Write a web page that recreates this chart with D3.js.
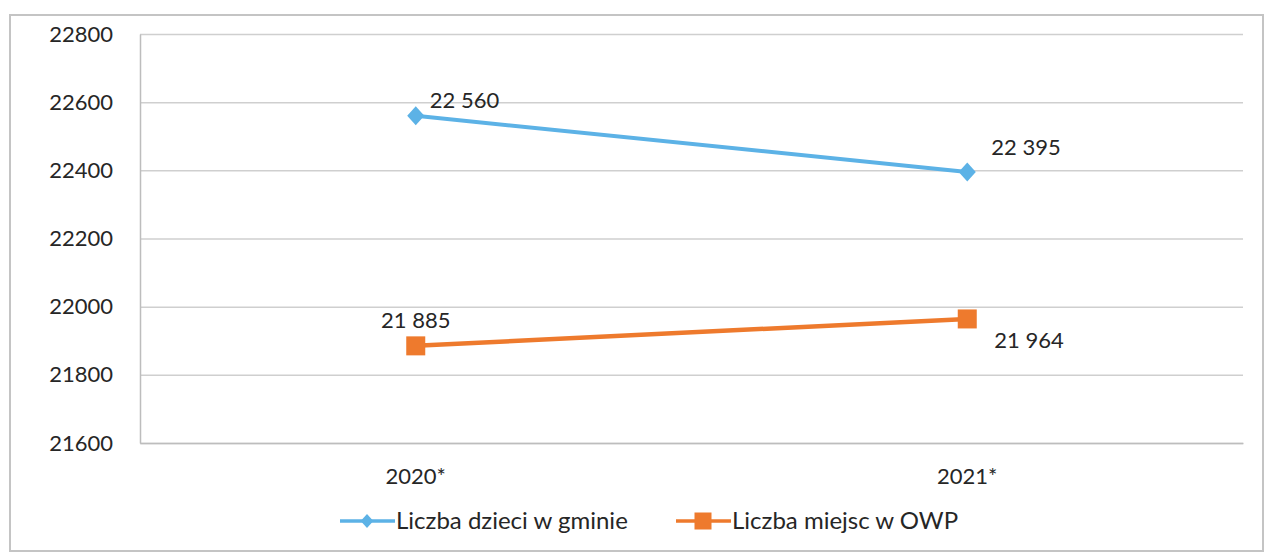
<!DOCTYPE html>
<html lang="pl">
<head>
<meta charset="utf-8">
<script src="https://cdn.jsdelivr.net/npm/d3@7"></script>
<style>
  html, body { margin: 0; padding: 0; background: #fff; }
  svg { display: block; font-family: Lato, "Open Sans", sans-serif; }
</style>
</head>
<body>
<svg id="chart" width="1265" height="556"></svg>
<script>
// Years on the category axis
const categories = ["2020*", "2021*"];
// Series
const seriesNames = ["Liczba dzieci w gminie", "Liczba miejsc w OWP"];
const childrenValues = [22560, 22395];
const placesValues = [21885, 21964];
// Value axis ticks
const yTicks = [21600, 21800, 22000, 22200, 22400, 22600, 22800];

// Data labels use a space as thousands separator
const fmt = v => d3.format(",")(v).replace(/,/g, " ");

const svg = d3.select("#chart");
const plot = { left: 140, right: 1243, top: 34, bottom: 443 };
const textColor = "#262626";

// outer frame
svg.append("rect")
  .attr("x", 10).attr("y", 15)
  .attr("width", 1253).attr("height", 536)
  .attr("fill", "none").attr("stroke", "#c4c4c4").attr("stroke-width", 2);

const x = d3.scaleBand().domain(categories).range([plot.left, plot.right]);
const y = d3.scaleLinear().domain([21600, 22800]).range([plot.bottom, plot.top]);

// gridlines
svg.append("g")
  .attr("transform", `translate(${plot.left},0)`)
  .call(d3.axisLeft(y).tickValues(yTicks).tickSize(-(plot.right - plot.left)).tickFormat(""))
  .call(g => g.select(".domain").remove())
  .call(g => g.selectAll(".tick line").attr("stroke", "#cfcfcf").attr("stroke-width", 1.5));

// y tick labels
svg.append("g")
  .attr("transform", `translate(${plot.left},0)`)
  .call(d3.axisLeft(y).tickValues(yTicks).tickSize(0).tickPadding(27).tickFormat(d => d))
  .call(g => g.select(".domain").attr("stroke", "#bdbdbd").attr("stroke-width", 1.5))
  .call(g => g.selectAll("text").attr("fill", textColor).style("font-size", "22px")
    .style("font-family", "Lato, sans-serif"));

// x tick labels
svg.append("g")
  .attr("transform", `translate(0,${plot.bottom})`)
  .call(d3.axisBottom(x).tickSize(0).tickPadding(25))
  .call(g => g.select(".domain").attr("stroke", "#bdbdbd").attr("stroke-width", 1.5))
  .call(g => g.selectAll("text").attr("fill", textColor).style("font-size", "22px")
    .style("font-family", "Lato, sans-serif"));

const cx = c => x(c) + x.bandwidth() / 2;

const series = [
  { name: seriesNames[0], values: childrenValues, color: "#5CB2E6", marker: "diamond",
    width: 4, labelOffsets: [[14, -8], [24, -17]], anchors: ["start", "start"] },
  { name: seriesNames[1], values: placesValues, color: "#EE7A2D", marker: "square",
    width: 4.5, labelOffsets: [[0, -18], [27, 29]], anchors: ["middle", "start"] }
];

const line = d3.line().x((d, i) => cx(categories[i])).y(d => y(d));

function drawMarker(g, type, px, py, color, size) {
  const s = size / 2;
  if (type === "diamond") {
    g.append("path")
      .attr("d", `M${px},${py - s} L${px + s * 0.9},${py} L${px},${py + s} L${px - s * 0.9},${py} Z`)
      .attr("fill", color);
  } else {
    g.append("rect")
      .attr("x", px - s).attr("y", py - s).attr("width", size).attr("height", size)
      .attr("fill", color);
  }
}

series.forEach(s => {
  const g = svg.append("g");
  g.append("path")
    .datum(s.values)
    .attr("d", line)
    .attr("fill", "none")
    .attr("stroke", s.color)
    .attr("stroke-width", s.width);
  s.values.forEach((v, i) => {
    const px = cx(categories[i]), py = y(v);
    drawMarker(g, s.marker, px, py, s.color, s.marker === "diamond" ? 19 : 19);
    g.append("text")
      .attr("x", px + s.labelOffsets[i][0])
      .attr("y", py + s.labelOffsets[i][1])
      .attr("text-anchor", s.anchors[i])
      .attr("fill", textColor)
      .style("font-size", "22px")
      .text(fmt(v));
  });
});

// legend
const legend = [
  { x: 340, ...series[0] },
  { x: 676, ...series[1] }
];
legend.forEach(l => {
  const g = svg.append("g").attr("transform", `translate(${l.x},521)`);
  g.append("line").attr("x1", 0).attr("x2", 55).attr("y1", 0).attr("y2", 0)
    .attr("stroke", l.color).attr("stroke-width", 3.5);
  drawMarker(g, l.marker, 27, 0, l.color, l.marker === "diamond" ? 14 : 17);
  g.append("text").attr("x", 56).attr("y", 8)
    .attr("fill", textColor).style("font-size", "24px").text(l.name);
});
</script>
</body>
</html>
